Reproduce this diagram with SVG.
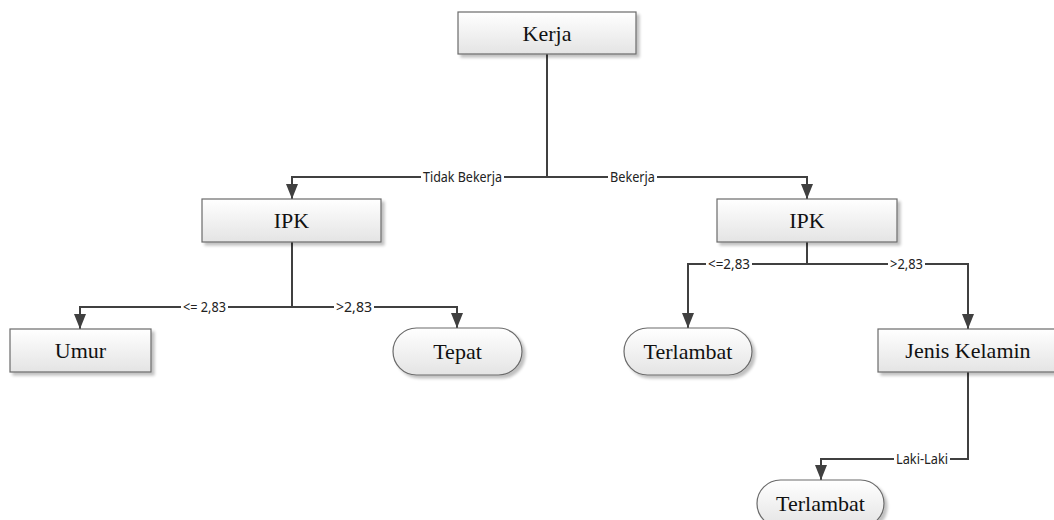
<svg xmlns="http://www.w3.org/2000/svg" width="1054" height="520" viewBox="0 0 1054 520">
  <defs>
    <linearGradient id="nodeFill" x1="0" y1="0" x2="0" y2="1">
      <stop offset="0" stop-color="#ffffff"/>
      <stop offset="1" stop-color="#e4e4e4"/>
    </linearGradient>
    <filter id="shadow" x="-10%" y="-20%" width="130%" height="160%">
      <feGaussianBlur in="SourceAlpha" stdDeviation="1.5"/>
      <feOffset dx="3" dy="3" result="b"/>
      <feComponentTransfer><feFuncA type="linear" slope="0.25"/></feComponentTransfer>
      <feMerge><feMergeNode/><feMergeNode in="SourceGraphic"/></feMerge>
    </filter>
    <marker id="arrowDown" markerUnits="userSpaceOnUse" markerWidth="16" markerHeight="14" refX="15" refY="7" orient="auto" viewBox="0 0 16 14">
      <path d="M0,1 L15,7 L0,13 Z" fill="#404040"/>
    </marker>
  </defs>
  <style>
    .box { fill: url(#nodeFill); stroke: #6a6a6a; stroke-width: 1.2; filter: url(#shadow); }
    .name { font-family: "Liberation Serif", "Times New Roman", serif; font-size: 22px; fill: #111; text-anchor: middle; dominant-baseline: central; }
    .wire { fill: none; stroke: #404040; stroke-width: 2; }
    .arrowed { marker-end: url(#arrowDown); }
    .tag-bg { fill: #ffffff; }
    .tag { font-family: "Noto Sans", "Open Sans", sans-serif; font-size: 13.5px; fill: #222; dominant-baseline: central; }
  </style>
  <rect width="1054" height="520" fill="#ffffff"/>

  <g id="connectors">
    <!-- Kerja split -->
    <path class="wire" d="M547,54 V177"/>
    <path class="wire arrowed" d="M547,177 H292 V199"/>
    <path class="wire arrowed" d="M547,177 H807 V199"/>
    <!-- left IPK split -->
    <path class="wire" d="M292,242 V307"/>
    <path class="wire arrowed" d="M292,307 H80 V329"/>
    <path class="wire arrowed" d="M292,307 H457 V328"/>
    <!-- right IPK split -->
    <path class="wire" d="M807,242 V264"/>
    <path class="wire arrowed" d="M807,264 H688 V328"/>
    <path class="wire arrowed" d="M807,264 H968 V329"/>
    <!-- Jenis Kelamin -->
    <path class="wire arrowed" d="M968,372 V459 H821 V480"/>

    <!-- edge labels -->
    <rect class="tag-bg" x="421" y="170" width="83" height="14"/>
    <text class="tag" x="423" y="177" textLength="79" lengthAdjust="spacingAndGlyphs">Tidak Bekerja</text>
    <rect class="tag-bg" x="608" y="170" width="49" height="14"/>
    <text class="tag" x="610" y="177" textLength="45" lengthAdjust="spacingAndGlyphs">Bekerja</text>
    <rect class="tag-bg" x="181" y="300" width="47" height="14"/>
    <text class="tag" x="183" y="307" textLength="43" lengthAdjust="spacingAndGlyphs">&lt;= 2,83</text>
    <rect class="tag-bg" x="334" y="300" width="40" height="14"/>
    <text class="tag" x="336" y="307" textLength="36" lengthAdjust="spacingAndGlyphs">&gt;2,83</text>
    <rect class="tag-bg" x="706" y="257" width="46" height="14"/>
    <text class="tag" x="708" y="264" textLength="42" lengthAdjust="spacingAndGlyphs">&lt;=2,83</text>
    <rect class="tag-bg" x="888" y="257" width="37" height="14"/>
    <text class="tag" x="890" y="264" textLength="33" lengthAdjust="spacingAndGlyphs">&gt;2,83</text>
    <rect class="tag-bg" x="894" y="452" width="56" height="14"/>
    <text class="tag" x="896" y="459" textLength="52" lengthAdjust="spacingAndGlyphs">Laki-Laki</text>
  </g>

  <g id="node-kerja">
    <rect class="box" x="458" y="12" width="178" height="42"/>
    <text class="name" x="547" y="33">Kerja</text>
  </g>
  <g id="node-ipk-left">
    <rect class="box" x="202" y="199" width="179" height="43"/>
    <text class="name" x="291.5" y="220.5">IPK</text>
  </g>
  <g id="node-ipk-right">
    <rect class="box" x="717" y="199" width="180" height="43"/>
    <text class="name" x="807" y="220.5">IPK</text>
  </g>
  <g id="node-umur">
    <rect class="box" x="10" y="329" width="141" height="43"/>
    <text class="name" x="80.5" y="350.5">Umur</text>
  </g>
  <g id="node-tepat">
    <rect class="box" x="393" y="328" width="129" height="47" rx="23.5" ry="23.5"/>
    <text class="name" x="457.5" y="351.5">Tepat</text>
  </g>
  <g id="node-terlambat-1">
    <rect class="box" x="624" y="328" width="128" height="47" rx="23.5" ry="23.5"/>
    <text class="name" x="688" y="351.5">Terlambat</text>
  </g>
  <g id="node-jenis-kelamin">
    <rect class="box" x="878" y="329" width="180" height="43"/>
    <text class="name" x="968" y="350.5">Jenis Kelamin</text>
  </g>
  <g id="node-terlambat-2">
    <rect class="box" x="757" y="480" width="127" height="47" rx="23.5" ry="23.5"/>
    <text class="name" x="820.5" y="503.5">Terlambat</text>
  </g>
</svg>
